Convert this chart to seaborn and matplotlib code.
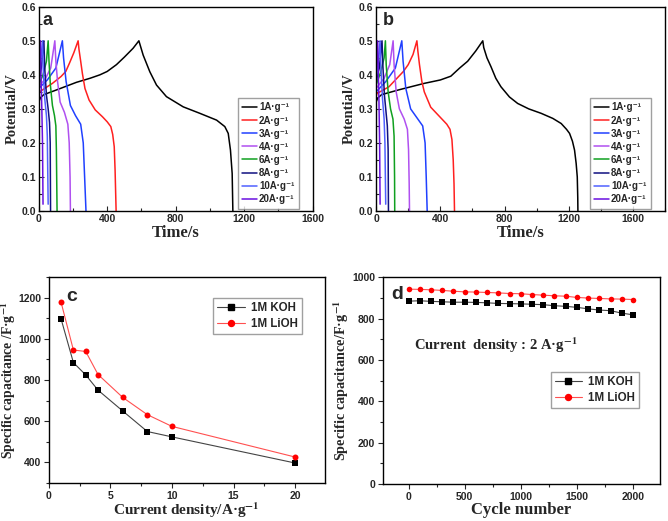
import numpy as np
import pandas as pd
import matplotlib
matplotlib.use("Agg")
import matplotlib.pyplot as plt
from matplotlib.ticker import MultipleLocator
from matplotlib.lines import Line2D
import seaborn as sns

# ---- data: galvanostatic charge/discharge, 1M KOH (panel a) ----
rates = ["1A·g⁻¹", "2A·g⁻¹", "3A·g⁻¹", "4A·g⁻¹",
         "6A·g⁻¹", "8A·g⁻¹", "10A·g⁻¹", "20A·g⁻¹"]
colors = ["#000000", "#ff2020", "#2040ff", "#b050f0",
          "#10a020", "#101080", "#5060ff", "#6a10e0"]

a_t = [
    [0, 10, 30, 100, 220, 300, 357, 400, 454, 500, 551, 585,
     610, 649, 688, 746, 844, 941, 1039, 1087, 1107, 1120, 1130, 1134],
    [0, 5, 40, 80, 130, 158, 180, 205, 230,
     235, 245, 255, 270, 294, 330, 372, 400, 421, 432, 441, 446, 450, 452],
    [0, 50, 100, 138, 145, 160, 185, 215, 245, 260, 268, 276],
    [0, 40, 70, 94, 100, 110, 125, 150, 170, 178, 183, 185],
    [0, 25, 45, 55, 60, 68, 80, 92, 100, 103, 107],
    [0, 15, 30, 35, 45, 55, 63, 67, 69],
    [0, 10, 22, 26, 35, 45, 50, 55],
    [0, 10, 13, 18, 22, 25],
]
a_v = [
    [0.320, 0.333, 0.342, 0.355, 0.378, 0.390, 0.400, 0.410, 0.430, 0.452, 0.478, 0.500,
     0.458, 0.409, 0.370, 0.336, 0.306, 0.287, 0.267, 0.248, 0.228, 0.179, 0.110, 0.0],
    [0.340, 0.350, 0.362, 0.375, 0.395, 0.410, 0.435, 0.465, 0.500,
     0.475, 0.440, 0.404, 0.360, 0.326, 0.297, 0.277, 0.262, 0.248, 0.225, 0.189, 0.120, 0.040, 0.0],
    [0.360, 0.385, 0.420, 0.500, 0.450, 0.380, 0.310, 0.280, 0.255, 0.200, 0.100, 0.0],
    [0.365, 0.390, 0.420, 0.500, 0.440, 0.380, 0.320, 0.290, 0.255, 0.200, 0.100, 0.0],
    [0.370, 0.400, 0.440, 0.500, 0.440, 0.370, 0.310, 0.280, 0.250, 0.180, 0.0],
    [0.380, 0.420, 0.500, 0.420, 0.340, 0.300, 0.260, 0.200, 0.0],
    [0.380, 0.430, 0.500, 0.420, 0.330, 0.280, 0.220, 0.020],
    [0.400, 0.500, 0.400, 0.300, 0.200, 0.020],
]

# ---- panel b: 1M LiOH ----
b_t = [
    [0, 10, 35, 150, 300, 400, 465, 520, 570, 620, 664,
     670, 690, 715, 745, 777, 830, 881, 950, 1027, 1100, 1152, 1185, 1204, 1222, 1235, 1245, 1252, 1255, 1256],
    [0, 5, 80, 170, 200, 230, 254,
     260, 270, 285, 300, 340, 400, 440, 460, 472, 480, 485, 488],
    [0, 60, 120, 160, 168, 185, 215, 260, 290, 305, 312, 318],
    [0, 50, 85, 106, 112, 125, 145, 175, 195, 202, 206, 208],
    [0, 30, 50, 58, 63, 75, 90, 105, 112, 115, 116],
    [0, 20, 37, 42, 52, 62, 70, 75, 77],
    [0, 12, 25, 30, 40, 50, 55, 60],
    [0, 10, 13, 18, 22, 25],
]
b_v = [
    [0.320, 0.332, 0.342, 0.357, 0.375, 0.385, 0.396, 0.420, 0.440, 0.470, 0.500,
     0.480, 0.450, 0.424, 0.390, 0.365, 0.335, 0.316, 0.300, 0.287, 0.272, 0.257, 0.240, 0.228, 0.205, 0.179, 0.140, 0.100, 0.040, 0.0],
    [0.335, 0.345, 0.365, 0.410, 0.430, 0.460, 0.500,
     0.470, 0.430, 0.380, 0.350, 0.305, 0.275, 0.255, 0.240, 0.210, 0.150, 0.080, 0.0],
    [0.350, 0.380, 0.420, 0.500, 0.440, 0.360, 0.300, 0.270, 0.250, 0.200, 0.100, 0.0],
    [0.360, 0.390, 0.430, 0.500, 0.430, 0.350, 0.300, 0.270, 0.240, 0.180, 0.080, 0.0],
    [0.370, 0.410, 0.450, 0.500, 0.430, 0.350, 0.300, 0.270, 0.220, 0.100, 0.0],
    [0.380, 0.420, 0.500, 0.430, 0.340, 0.290, 0.250, 0.180, 0.0],
    [0.390, 0.430, 0.500, 0.420, 0.330, 0.270, 0.200, 0.020],
    [0.410, 0.500, 0.420, 0.320, 0.200, 0.020],
]

# ---- panel c: rate capability ----
current_density = [1, 2, 3, 4, 6, 8, 10, 20]
cap_koh = [1097, 885, 825, 751, 650, 550, 524, 397]
cap_lioh = [1178, 946, 939, 827, 716, 632, 575, 426]

# ---- panel d: cycling at 2 A/g ----
cycles = list(range(0, 2001, 100))
cyc_koh = [884, 886, 883, 881, 879, 879, 878, 876, 873, 872, 871, 869, 867, 862, 859, 854,
           847, 841, 838, 826, 818]
cyc_lioh = [942, 941, 939, 936, 932, 929, 928, 926, 924, 921, 920, 916, 913, 910, 908, 902,
            899, 897, 895, 894, 892]

sns.set_style("ticks")
plt.rcParams['font.family'] = ['Liberation Sans', 'DejaVu Sans']
plt.rcParams['font.weight'] = 'bold'
plt.rcParams['mathtext.default'] = 'bf'

SERIF = dict(family='Liberation Serif', weight='bold', math_fontfamily='stix')


def long_frame(times, volts):
    rows = []
    for lab, t, v in zip(rates, times, volts):
        for ti, vi in zip(t, v):
            rows.append((lab, ti, vi))
    return pd.DataFrame(rows, columns=['rate', 'time', 'volt'])


def style_axes(ax, direction):
    for s in ax.spines.values():
        s.set_color('black')
        s.set_linewidth(1.0)
    ax.tick_params(which='both', direction=direction, labelsize=7.5, width=0.8,
                   top=False, right=False, pad=2)
    ax.tick_params(which='major', length=3.5)
    ax.tick_params(which='minor', length=2)
    for lab in ax.get_xticklabels() + ax.get_yticklabels():
        lab.set_fontweight('bold')


def gcd_panel(ax, times, volts, xmax, letter, frac_x):
    df = long_frame(times, volts)
    sns.lineplot(data=df, x='time', y='volt', hue='rate', palette=colors,
                 sort=False, estimator=None, linewidth=1.1, ax=ax, legend=False)
    ax.set_xlim(0, xmax)
    ax.set_ylim(0, 0.6)
    ax.xaxis.set_major_locator(MultipleLocator(400))
    ax.xaxis.set_minor_locator(MultipleLocator(200))
    ax.yaxis.set_major_locator(MultipleLocator(0.1))
    ax.yaxis.set_minor_locator(MultipleLocator(0.05))
    ax.yaxis.set_major_formatter(plt.FormatStrFormatter('%.1f'))
    ax.set_xlabel("Time/s", fontsize=12, labelpad=1, **SERIF)
    ax.set_ylabel("Potential/V", fontsize=10.5, labelpad=2, **SERIF)
    style_axes(ax, 'in')
    handles = [Line2D([], [], color=c, lw=1.1) for c in colors]
    ax.legend(handles, rates, loc='lower right', bbox_to_anchor=(0.95, 0.012),
              frameon=True, fancybox=False, edgecolor='#888888',
              labelspacing=0.32, handlelength=1.5, handletextpad=0.25,
              borderpad=0.45, borderaxespad=0.0,
              prop={'weight': 'bold', 'size': 7.0,
                    'family': ['Liberation Sans', 'DejaVu Sans']})
    ax.text(frac_x, 0.975, letter, transform=ax.transAxes, fontsize=13,
            fontweight='bold', va='top', ha='left')


fig = plt.figure(figsize=(6.68, 5.21), dpi=100)

ax_a = fig.add_axes([0.058, 0.595, 0.410, 0.392])
gcd_panel(ax_a, a_t, a_v, 1600, 'a', 0.012)

ax_b = fig.add_axes([0.563, 0.595, 0.433, 0.392])
gcd_panel(ax_b, b_t, b_v, 1800, 'b', 0.022)

# ---- panel c ----
ax_c = fig.add_axes([0.073, 0.073, 0.413, 0.395])
df_c = pd.DataFrame({'j': current_density * 2,
                     'cap': cap_koh + cap_lioh,
                     'el': ['1M KOH'] * 8 + ['1M LiOH'] * 8})
sns.lineplot(data=df_c, x='j', y='cap', hue='el', style='el',
             palette={'1M KOH': '#444444', '1M LiOH': '#ff5050'},
             markers={'1M KOH': 's', '1M LiOH': 'o'}, dashes=False,
             linewidth=0.8, markersize=4.3, markeredgewidth=0, ax=ax_c, legend=False)
for line, mc in zip(ax_c.lines, ['black', 'red']):
    line.set_markerfacecolor(mc)
ax_c.set_xlim(0, 22.4)
ax_c.set_ylim(300, 1300)
ax_c.xaxis.set_major_locator(MultipleLocator(5))
ax_c.xaxis.set_minor_locator(MultipleLocator(2.5))
ax_c.yaxis.set_major_locator(MultipleLocator(200))
ax_c.yaxis.set_minor_locator(MultipleLocator(100))
ax_c.set_xlabel("Current density/A·g$^{-1}$", fontsize=11, labelpad=0, **SERIF)
ax_c.set_ylabel("Specific capacitance /F·g$^{-1}$", fontsize=9.8, labelpad=0, **SERIF)
style_axes(ax_c, 'out')
hc = [Line2D([], [], color='#444444', lw=0.8, marker='s', mfc='black', mec='black', ms=4.3),
      Line2D([], [], color='#ff5050', lw=0.8, marker='o', mfc='red', mec='red', ms=4.3)]
ax_c.legend(hc, ['1M KOH', '1M LiOH'], loc='upper right', bbox_to_anchor=(0.917, 0.898),
            frameon=True, fancybox=False, edgecolor='#888888', handlelength=2.4,
            handletextpad=0.5, labelspacing=0.3, borderpad=0.35, borderaxespad=0.0,
            prop={'weight': 'bold', 'size': 8.3})
ax_c.text(0.065, 0.945, 'c', transform=ax_c.transAxes, fontsize=14,
          fontweight='bold', va='top', ha='left')

# ---- panel d ----
ax_d = fig.add_axes([0.573, 0.071, 0.415, 0.397])
df_d = pd.DataFrame({'n': cycles * 2,
                     'cap': cyc_koh + cyc_lioh,
                     'el': ['1M KOH'] * len(cycles) + ['1M LiOH'] * len(cycles)})
sns.lineplot(data=df_d, x='n', y='cap', hue='el', style='el',
             palette={'1M KOH': '#444444', '1M LiOH': '#ff5050'},
             markers={'1M KOH': 's', '1M LiOH': 'o'}, dashes=False,
             linewidth=0.8, markersize=4.0, markeredgewidth=0, ax=ax_d, legend=False)
for line, mc in zip(ax_d.lines, ['black', 'red']):
    line.set_markerfacecolor(mc)
ax_d.set_xlim(-230, 2240)
ax_d.set_ylim(0, 1000)
ax_d.xaxis.set_major_locator(MultipleLocator(500))
ax_d.xaxis.set_minor_locator(MultipleLocator(250))
ax_d.yaxis.set_major_locator(MultipleLocator(200))
ax_d.yaxis.set_minor_locator(MultipleLocator(100))
ax_d.set_xlabel("Cycle number", fontsize=12, labelpad=0, **SERIF)
ax_d.set_ylabel("Specific capacitance/F·g$^{-1}$", fontsize=10.3, labelpad=1, **SERIF)
style_axes(ax_d, 'out')
ax_d.legend(hc, ['1M KOH', '1M LiOH'], loc='upper right', bbox_to_anchor=(0.924, 0.541),
            frameon=True, fancybox=False, edgecolor='#888888', handlelength=2.4,
            handletextpad=0.5, labelspacing=0.3, borderpad=0.35, borderaxespad=0.0,
            prop={'weight': 'bold', 'size': 8.3})
ax_d.text(0.112, 0.67, "Current  density : 2 A·g$^{-1}$", transform=ax_d.transAxes,
          fontsize=10.5, va='center', ha='left', **SERIF)
ax_d.text(0.029, 0.955, 'd', transform=ax_d.transAxes, fontsize=14,
          fontweight='bold', va='top', ha='left')

fig.savefig("out.png", dpi=100)
